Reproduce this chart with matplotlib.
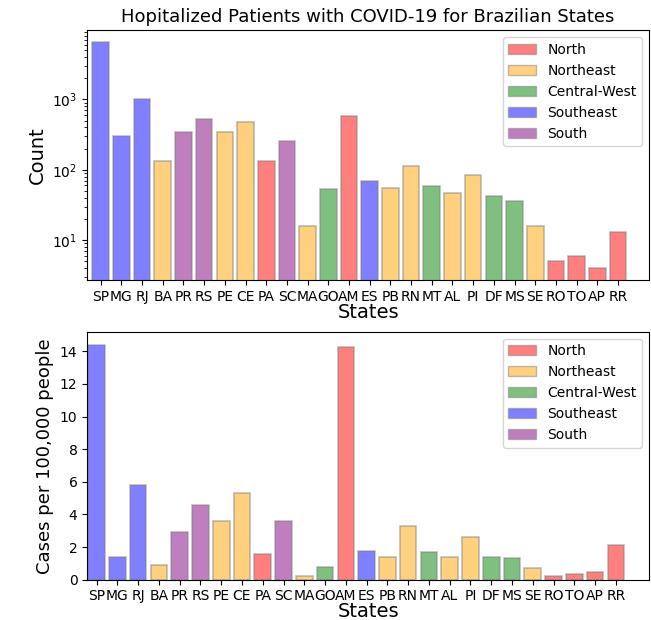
import matplotlib.pyplot as plt
from matplotlib.patches import Patch

states = ["SP", "MG", "RJ", "BA", "PR", "RS", "PE", "CE", "PA", "SC", "MA", "GO", "AM",
          "ES", "PB", "RN", "MT", "AL", "PI", "DF", "MS", "SE", "RO", "TO", "AP", "RR"]
regions = ["Southeast", "Southeast", "Southeast", "Northeast", "South", "South", "Northeast",
           "Northeast", "North", "South", "Northeast", "Central-West", "North", "Southeast",
           "Northeast", "Northeast", "Central-West", "Northeast", "Northeast", "Central-West",
           "Central-West", "Northeast", "North", "North", "North", "North"]
hospitalized = [6500, 300, 1000, 135, 340, 520, 340, 470, 135, 260, 16, 53, 590,
                70, 55, 115, 59, 47, 85, 42, 36, 16, 5, 6, 4, 13]
per_100k = [14.4, 1.4, 5.8, 0.9, 2.9, 4.6, 3.6, 5.3, 1.55, 3.6, 0.2, 0.75, 14.25,
            1.75, 1.4, 3.3, 1.7, 1.4, 2.6, 1.4, 1.3, 0.7, 0.25, 0.35, 0.45, 2.15]

region_names = ["North", "Northeast", "Central-West", "Southeast", "South"]
region_colors = {"North": "red", "Northeast": "orange", "Central-West": "green",
                 "Southeast": "blue", "South": "purple"}
colors = [region_colors[r] for r in regions]

fig = plt.figure(figsize=(6.51, 6.2), dpi=100)
ax1 = fig.add_axes([0.134, 0.548, 0.863, 0.403])
ax2 = fig.add_axes([0.134, 0.065, 0.863, 0.40])

handles = [Patch(facecolor=region_colors[r], alpha=0.5, edgecolor="grey", label=r)
           for r in region_names]

for ax, vals, xl in [(ax1, hospitalized, (-0.65, 26.5)), (ax2, per_100k, (-0.45, 26.6))]:
    x = range(len(states))
    ax.bar(x, vals, color=colors, alpha=0.5, edgecolor="grey", linewidth=1.2)
    ax.set_xticks(list(x))
    ax.set_xticklabels(states, fontsize=10)
    ax.tick_params(axis="y", labelsize=10)
    ax.set_xlabel("States", fontsize=14, labelpad=-1)
    ax.set_xlim(*xl)
    ax.legend(handles=handles, loc="upper right", fontsize=10)

ax1.set_yscale("log")
ax1.set_ylim(2.7, 10 ** 3.98)
ax1.set_ylabel("Count", fontsize=14)
ax1.set_title("Hopitalized Patients with COVID-19 for Brazilian States", fontsize=13)

ax2.set_ylim(0, 15.2)
ax2.set_ylabel("Cases per 100,000 people", fontsize=13)

plt.savefig("out.png", dpi=100)
